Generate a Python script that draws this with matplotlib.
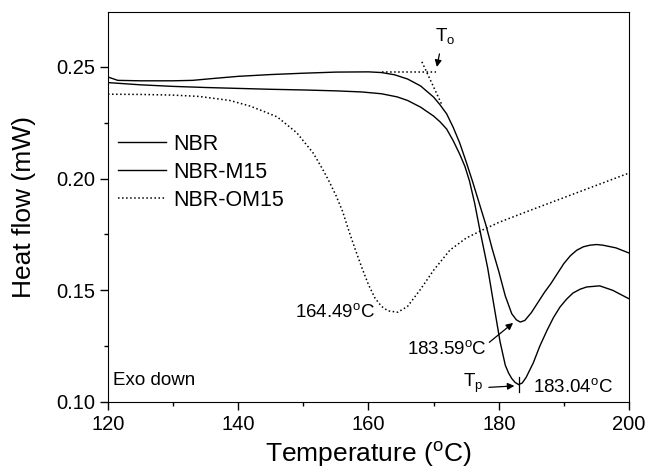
import matplotlib
matplotlib.use("Agg")
import matplotlib.pyplot as plt
from matplotlib.ticker import MultipleLocator

plt.rcParams['font.family'] = ['Liberation Sans', 'DejaVu Sans']
plt.rcParams['mathtext.fontset'] = 'custom'
plt.rcParams['mathtext.rm'] = 'Liberation Sans'
plt.rcParams['mathtext.it'] = 'Liberation Sans:italic'

# NBR (upper solid curve)
t_nbr = [120, 121.5, 125, 130, 133, 136, 140, 145, 150, 155, 160, 162, 164, 166, 168,
         170, 171, 172, 173, 174, 175, 176, 177, 178, 179, 180, 181, 182, 182.7, 183.3,
         184, 185, 186, 187, 188, 189, 190, 191, 192, 193, 194, 195, 196, 198, 200]
hf_nbr = [0.2455, 0.2440, 0.2438, 0.2438, 0.2440, 0.2448, 0.2458, 0.2466, 0.2472, 0.2477,
          0.2478, 0.2475, 0.2465, 0.2446, 0.2415, 0.2365, 0.2330, 0.2290, 0.2230, 0.2160,
          0.2075, 0.1985, 0.1890, 0.1795, 0.1685, 0.1585, 0.1475, 0.1395, 0.1368, 0.1358,
          0.1365, 0.1400, 0.1445, 0.1490, 0.1530, 0.1575, 0.1620, 0.1655, 0.1680, 0.1695,
          0.1702, 0.1705, 0.1702, 0.1690, 0.1667]

# NBR-M15 (lower solid curve)
t_m15 = [120, 125, 130, 135, 140, 145, 150, 155, 159, 162, 164.4, 166, 168, 170, 171, 172,
         173, 174, 174.8, 175.5, 176.3, 177.1, 178.3, 179.1, 180.2, 181, 181.5, 182, 182.5,
         183.04, 183.6, 184.2, 185.3, 186.3, 187.4, 188.4, 189.4, 190.4, 191.4, 192.5,
         193.5, 195.5, 197.5, 200]
hf_m15 = [0.2430, 0.2420, 0.2413, 0.2408, 0.2404, 0.2400, 0.2397, 0.2393, 0.2388, 0.2380,
          0.2366, 0.2350, 0.2320, 0.2280, 0.2254, 0.2222, 0.2170, 0.2110, 0.2055, 0.1990,
          0.1890, 0.1770, 0.1600, 0.1460, 0.1270, 0.1165, 0.1130, 0.1105, 0.1088, 0.1078,
          0.1085, 0.1110, 0.1175, 0.1250, 0.1320, 0.1378, 0.1425, 0.1460, 0.1488, 0.1505,
          0.1515, 0.1520, 0.1500, 0.1462]

# NBR-OM15 (dotted curve)
t_om15 = [120, 125, 130, 134, 138.7, 141.8, 144, 146, 149, 151.5, 153, 154, 155, 156, 157,
          158, 159, 160, 161, 162, 163, 164.5, 166, 168, 170, 172.5, 175, 177.5, 180, 185,
          190, 195, 200]
hf_om15 = [0.2378, 0.2377, 0.2374, 0.2368, 0.2350, 0.2325, 0.2300, 0.2276, 0.2205, 0.2115,
           0.2040, 0.1985, 0.1925, 0.1855, 0.1765, 0.1680, 0.1600, 0.1525, 0.1465, 0.1428,
           0.1408, 0.1402, 0.1428, 0.1505, 0.1590, 0.1680, 0.1734, 0.1770, 0.1804, 0.1860,
           0.1915, 0.1970, 0.2025]

# onset construction lines
base_t = [162, 170.3]
base_hf = [0.2478, 0.2478]
tang_t = [168.2, 171.2]
tang_hf = [0.2523, 0.2335]

fig = plt.figure(figsize=(6.47, 4.71), dpi=100)
ax = fig.add_axes([0.1669, 0.1465, 0.8053, 0.828])

ax.plot(t_nbr, hf_nbr, 'k-', lw=1.0, label='NBR')
ax.plot(t_m15, hf_m15, 'k-', lw=1.0, label='NBR-M15')
ax.plot(t_om15, hf_om15, 'k:', lw=1.1, label='NBR-OM15')
ax.plot(base_t, base_hf, 'k:', lw=1.1)
ax.plot(tang_t, tang_hf, 'k:', lw=1.1)

ax.set_xlim(120, 200)
ax.set_ylim(0.10, 0.2746)
ax.xaxis.set_major_locator(MultipleLocator(20))
ax.xaxis.set_minor_locator(MultipleLocator(10))
ax.yaxis.set_major_locator(MultipleLocator(0.05))
ax.yaxis.set_minor_locator(MultipleLocator(0.025))
ax.tick_params(which='both', direction='out', top=False, right=False, labelsize=14.5)
ax.tick_params(which='major', length=6, width=1)
ax.tick_params(which='minor', length=3, width=1)
ax.set_yticks([0.10, 0.15, 0.20, 0.25])
ax.set_yticklabels(['0.10', '0.15', '0.20', '0.25'])

ax.set_xlabel('Temperature ($^{\\mathrm{o}}$C)', fontsize=19, labelpad=4)
ax.set_ylabel('Heat flow (mW)', fontsize=19, labelpad=14)

ax.legend(loc='upper left', bbox_to_anchor=(0.019, 0.688), frameon=False, fontsize=15.5,
          handlelength=2.25, handletextpad=0.3, labelspacing=0.33, borderpad=0,
          borderaxespad=0)

fs = 13.5
ax.text(120.8, 0.1098, 'Exo down', fontsize=fs, ha='left', va='center')
ax.text(161.0, 0.1401, '164.49$^{\\mathrm{o}}$C', fontsize=fs, ha='right', va='center')
ax.annotate('183.59$^{\\mathrm{o}}$C', xy=(182.2, 0.1354), xytext=(172.0, 0.1237),
            fontsize=fs, ha='center', va='center',
            arrowprops=dict(arrowstyle='-|>', color='k', lw=0.9, shrinkA=0, shrinkB=0,
                            mutation_scale=10, relpos=(1.0, 0.75)))
ax.text(185.3, 0.1067, '183.04$^{\\mathrm{o}}$C', fontsize=fs, ha='left', va='center')
ax.annotate('T$_{\\mathrm{p}}$', xy=(182.4, 0.1072), xytext=(174.5, 0.1085),
            fontsize=fs, ha='left', va='center',
            arrowprops=dict(arrowstyle='-|>', color='k', lw=0.9, shrinkA=2, shrinkB=0,
                            mutation_scale=10, relpos=(1.0, 0.3)))
ax.plot([183.04, 183.04], [0.1045, 0.1110], 'k-', lw=0.9)
ax.annotate('T$_{\\mathrm{o}}$', xy=(170.5, 0.2500), xytext=(170.2, 0.2640),
            fontsize=fs, ha='left', va='center',
            arrowprops=dict(arrowstyle='-|>', color='k', lw=0.9, shrinkA=4, shrinkB=0,
                            mutation_scale=10, relpos=(0.3, 0.0)))

fig.savefig('out.png', dpi=100)
